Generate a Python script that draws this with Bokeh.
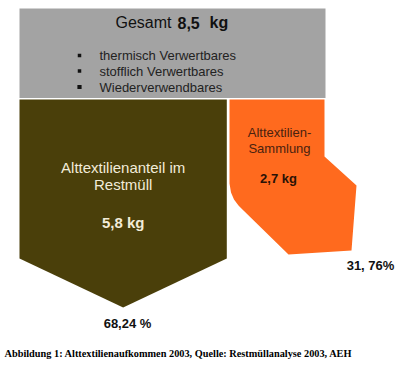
from bokeh.plotting import figure
from bokeh.models import ColumnDataSource, Range1d
from bokeh.embed import file_html
from bokeh.resources import INLINE
from bokeh.core.properties import value

# ---- data ----
total_kg = 8.5
restmuell_kg = 5.8
sammlung_kg = 2.7
restmuell_pct = "68,24 %"
sammlung_pct = "31, 76%"
legend_items = ["thermisch Verwertbares", "stofflich Verwertbares", "Wiederverwendbares"]
caption = "Abbildung 1: Alttextilienaufkommen 2003, Quelle: Restmüllanalyse 2003, AEH"

# ---- layout (pixel space) ----
W, H = 400, 374
x0, x1 = 19, 325
px_per_kg = (x1 - x0) / total_kg
xs_split = x0 + restmuell_kg * px_per_kg  # boundary between flows

p = figure(width=W, height=H, output_backend="svg", toolbar_location=None,
           x_range=Range1d(0, W), y_range=Range1d(H, 0), min_border=0)
p.axis.visible = False
p.grid.visible = False
p.outline_line_color = None
p.background_fill_color = "white"
p.border_fill_color = "white"

# total box
p.quad(left=[x0], right=[x1], top=[8], bottom=[97.5], fill_color="#a3a3a3", line_color=None)

# Restmüll flow (arrow)
ox_r = xs_split - 1.5
p.patch([x0, ox_r, ox_r, (x0 + ox_r) / 2, x0], [99, 99, 258, 307, 258],
        fill_color="#4a3f0a", line_color=None)

# Sammlung flow
sx = xs_split + 1.2
p.patch([sx, x1 - 1, x1 - 1, 356, 351, 288, 243, 238, 233.5, 230.5, sx],
        [99, 99, 156, 185, 250, 254, 210, 205, 199, 192, 183],
        fill_color="#ff6a1e", line_color=None)

SANS = value("Liberation Sans")

def txt(x, y, t, size, color, bold=False, align="center", font=SANS):
    p.text(x=[x], y=[y], text=[t], text_font=font, text_font_size=f"{size}px",
           text_color=color, text_align=align, text_baseline="middle",
           text_font_style="bold" if bold else "normal")

# header
fmt = lambda v: f"{v:.1f}".replace(".", ",")
txt(115, 22, "Gesamt", 16, "#111111", align="left")
txt(177, 22, fmt(total_kg), 16, "#111111", bold=True, align="left")
txt(209, 22, "kg", 16, "#111111", bold=True, align="left")

# legend bullets
ly = [55, 70.5, 86.5]
p.scatter(x=[79, 79, 79], y=ly, marker="square", size=[3.5, 3.5, 4.2],
          fill_color="#111111", line_color=None)
for yy, t in zip(ly, legend_items):
    txt(99, yy, t, 13, "#222222", align="left")

# Restmüll texts
cx_r = (x0 + ox_r) / 2
txt(cx_r, 167, "Alttextilienanteil im", 15, "#f2ecd9")
txt(cx_r, 184, "Restmüll", 15, "#f2ecd9")
txt(cx_r, 222, f"{fmt(restmuell_kg)} kg", 15, "#f2ecd9", bold=True)
txt(127, 323, restmuell_pct, 13, "#111111", bold=True)

# Sammlung texts
txt(279, 132, "Alttextilien-", 13, "#4a2210")
txt(279, 148, "Sammlung", 13, "#4a2210")
txt(278, 178, f"{fmt(sammlung_kg)} kg", 13, "#2a1206", bold=True)
txt(370, 265, sammlung_pct, 13, "#111111", bold=True)

# caption
txt(4, 353, caption, 10.3, "#000000", bold=True, align="left", font=value("Liberation Serif"))

open("out.html", "w").write(file_html(p, INLINE))
